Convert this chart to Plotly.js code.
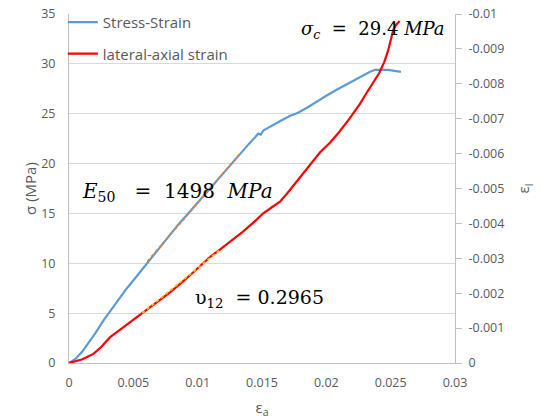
<!DOCTYPE html>
<html>
<head>
<meta charset="utf-8">
<script src="https://cdn.plot.ly/plotly-3.0.1.min.js"></script>
<style>html,body{margin:0;padding:0;background:#fff;}#chart{width:541px;height:419px;}</style>
</head>
<body>
<div id="chart"></div>
<script>
// Stress-strain curve (axial strain, stress MPa)
const stressStrainX = [0, 0.0005, 0.001, 0.0015, 0.002, 0.0027, 0.0033, 0.0038, 0.0045, 0.0052, 0.0057, 0.0063, 0.0071, 0.0078, 0.0085, 0.0094, 0.0100, 0.0108, 0.0117, 0.0125, 0.0133, 0.0140, 0.0145, 0.0147, 0.0149, 0.0151, 0.0155, 0.0160, 0.0166, 0.0172, 0.0178, 0.0185, 0.0192, 0.0200, 0.0208, 0.0215, 0.0222, 0.0228, 0.0234, 0.0238, 0.0243, 0.0248, 0.0253, 0.0258];
const stressStrainY = [0, 0.4, 1.1, 2.0, 2.9, 4.3, 5.4, 6.3, 7.5, 8.6, 9.4, 10.3, 11.7, 12.8, 13.9, 15.2, 16.1, 17.3, 18.6, 19.8, 21.0, 22.0, 22.7, 23.0, 22.9, 23.3, 23.6, 24.0, 24.4, 24.8, 25.1, 25.6, 26.2, 26.8, 27.4, 27.9, 28.4, 28.8, 29.2, 29.4, 29.4, 29.4, 29.3, 29.2];

// Lateral vs axial strain
const lateralX = [0, 0.001, 0.0019, 0.0025, 0.0032, 0.0045, 0.0057, 0.0068, 0.0079, 0.0090, 0.0100, 0.0110, 0.0117, 0.0125, 0.0135, 0.0145, 0.0151, 0.0158, 0.0164, 0.0170, 0.0176, 0.0182, 0.0188, 0.0195, 0.0203, 0.0210, 0.0218, 0.0226, 0.0232, 0.0237, 0.0241, 0.0245, 0.0248, 0.0252, 0.0254, 0.0257];
const lateralY = [0, -0.0001, -0.00026, -0.00046, -0.00074, -0.00110, -0.00143, -0.00173, -0.00204, -0.00238, -0.00272, -0.00305, -0.00324, -0.00347, -0.00376, -0.00408, -0.00429, -0.00447, -0.00462, -0.00488, -0.00516, -0.00545, -0.00573, -0.00603, -0.00632, -0.00662, -0.00700, -0.00742, -0.00778, -0.00805, -0.00830, -0.00862, -0.00895, -0.00954, -0.00968, -0.00980];

// Linear fit segments (trendlines)
const stressFitX = [0.0061, 0.0133];
const stressFitY = [10.2, 21.0];
const lateralFitX = [0.0057, 0.0118];
const lateralFitY = [-0.00143, -0.00326];

// Tick labels
const xTickVals = [0, 0.005, 0.01, 0.015, 0.02, 0.025, 0.03];
const xTickText = ["0", "0.005", "0.01", "0.015", "0.02", "0.025", "0.03"];
const yTickVals = [0, 5, 10, 15, 20, 25, 30, 35];
const yTickText = ["0", "5", "10", "15", "20", "25", "30", "35"];
const y2TickVals = [0, -0.001, -0.002, -0.003, -0.004, -0.005, -0.006, -0.007, -0.008, -0.009, -0.01];
const y2TickText = ["0", "-0.001", "-0.002", "-0.003", "-0.004", "-0.005", "-0.006", "-0.007", "-0.008", "-0.009", "-0.01"];

const gray = "#595959";
const tickFont = {family: "Open Sans", size: 12.5, color: gray};

const traces = [
  {x: stressStrainX, y: stressStrainY, type: "scatter", mode: "lines", name: "Stress-Strain",
   line: {color: "#5B9BD5", width: 2.2}, legendgroup: "a"},
  {x: lateralX, y: lateralY, yaxis: "y2", type: "scatter", mode: "lines", name: "lateral-axial strain",
   line: {color: "#FF0000", width: 2.2}, legendgroup: "b"},
  {x: stressFitX, y: stressFitY, type: "scatter", mode: "lines", showlegend: false,
   line: {color: "#ED7D31", width: 1.8, dash: "dot"}},
  {x: lateralFitX, y: lateralFitY, yaxis: "y2", type: "scatter", mode: "lines", showlegend: false,
   line: {color: "#FFC000", width: 1.8, dash: "dot"}}
];

const ann = (x, y, size, text) => ({xref: "paper", yref: "paper", x: x, y: y, xanchor: "left", yanchor: "middle",
  showarrow: false, font: {family: "DejaVu Serif", size: size, color: "#000"}, text: text});

const layout = {
  width: 541, height: 419,
  margin: {l: 69, r: 86, t: 14, b: 56, pad: 0, autoexpand: false},
  paper_bgcolor: "#fff", plot_bgcolor: "#fff",
  showlegend: true,
  legend: {x: -0.016, y: 1.023, xanchor: "left", yanchor: "top", bgcolor: "rgba(0,0,0,0)",
    font: {family: "Open Sans", size: 15, color: gray}, tracegroupgap: 9},
  xaxis: {range: [0, 0.03], tickvals: xTickVals, ticktext: xTickText, showgrid: false, zeroline: false,
    showline: true, linecolor: "#bfbfbf", linewidth: 1, ticks: "", ticklabelstandoff: 8, tickfont: tickFont,
    title: {text: "ε<sub>a</sub>", font: {family: "Open Sans", size: 15, color: gray}, standoff: 12}},
  yaxis: {range: [0, 35], tickvals: yTickVals, ticktext: yTickText, showgrid: true, gridcolor: "#d9d9d9",
    zeroline: false, showline: true, linecolor: "#bfbfbf", ticks: "", ticklabelstandoff: 10, tickfont: tickFont,
    title: {text: "σ (MPa)", font: {family: "Open Sans", size: 15, color: gray}, standoff: 0}},
  yaxis2: {range: [0, -0.01], overlaying: "y", side: "right", tickvals: y2TickVals, ticktext: y2TickText,
    showgrid: false, zeroline: false, showline: true, linecolor: "#bfbfbf", ticks: "outside", ticklen: 6,
    tickcolor: "#bfbfbf", ticklabelstandoff: 4, tickfont: tickFont,
    title: {text: "ε<sub>l</sub>", font: {family: "Open Sans", size: 15, color: gray}, standoff: 15}},
  annotations: [
    ann(0.596, 0.955, 18, "<i>σ</i><sub><i>c</i></sub>&nbsp; = &nbsp;29.4 <i>MPa</i>"),
    ann(0.0285, 0.49, 20, "<i>E</i><sub>50</sub>&nbsp;&nbsp; = &nbsp;1498&nbsp; <i>MPa</i>"),
    ann(0.321, 0.186, 19, "υ<sub>12</sub>&nbsp; = 0.2965")
  ]
};

Plotly.newPlot("chart", traces, layout, {displayModeBar: false, staticPlot: true});
</script>
</body>
</html>
